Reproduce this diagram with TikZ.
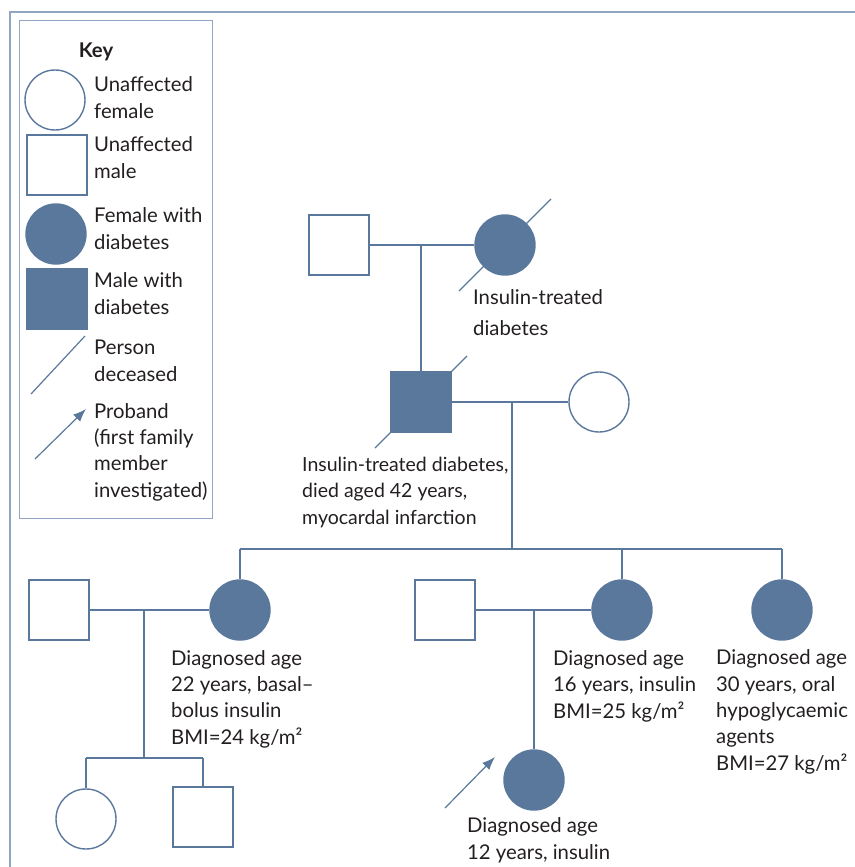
\documentclass[tikz,border=0pt]{standalone}
\usepackage{fontspec}
\setmainfont{Lato}
\usetikzlibrary{arrows.meta}

\definecolor{pedblue}{RGB}{90,120,156}
\definecolor{framecol}{RGB}{143,165,193}
\definecolor{inkcol}{RGB}{35,31,32}

\begin{document}
\begin{tikzpicture}[
  x=1pt, y=-1pt,
  male/.style={rectangle, draw=pedblue, line width=1.4pt, minimum size=60pt, inner sep=0pt},
  female/.style={circle, draw=pedblue, line width=1.4pt, minimum size=60pt, inner sep=0pt},
  affected/.style={fill=pedblue},
  link/.style={draw=pedblue, line width=1.4pt},
  deceased/.style={draw=pedblue, line width=1.2pt},
  pointer/.style={draw=pedblue, line width=1.2pt, -{Latex[length=13pt,width=10pt]}},
  % notes are placed by the baseline of their last line
  note/.style={anchor=base west, align=left, inner sep=0pt, text=inkcol,
    font=\fontsize{20.3}{26.3}\selectfont},
]
  \useasboundingbox (0,0) rectangle (854,867);

  % outer frame and key box
  \draw[framecol, line width=2pt] (10,880) -- (10,12) -- (870,12);
  \draw[framecol, line width=1pt] (19,21) rectangle (212,518);

  % key
  \node[note, anchor=base, font=\fontsize{20.3}{26.3}\selectfont\bfseries] (keyhead) at (96,57) {Key};
  \node[female] (keyfemale) at (55,100) {};
  \node[male] (keymale) at (57,165) {};
  \node[female, affected] (keyfemaled) at (56,234) {};
  \node[male, affected] (keymaled) at (57,299) {};
  \coordinate (keydeadA) at (31,394);
  \coordinate (keydeadB) at (85,336);
  \draw[deceased] (keydeadA) -- (keydeadB);
  \coordinate (keyarrowA) at (35,459);
  \coordinate (keyarrowB) at (86,409);
  \draw[pointer] (keyarrowA) -- (keyarrowB);

  \node[note] (keyt1) at (94,118) {Unaffected\\female};
  \node[note] (keyt2) at (94,178) {Unaffected\\male};
  \node[note] (keyt3) at (94,249) {Female with\\diabetes};
  \node[note] (keyt4) at (94,314) {Male with\\diabetes};
  \node[note] (keyt5) at (94,381) {Person\\deceased};
  \node[note] (keyt6) at (94,497) {Proband\\(first family\\member\\investigated)};

  % generation I
  \node[male] (grandpa) at (339,245) {};
  \node[female, affected] (grandma) at (505,245) {};
  \draw[link] (grandpa) -- (grandma);
  \draw[deceased] ([shift={(-46,46)}]grandma.center) -- ([shift={(46,-46)}]grandma.center);
  \node[note, font=\fontsize{20.3}{31}\selectfont] (grandmanote) at (473,335) {Insulin-treated\\diabetes};

  % generation II
  \node[male, affected] (father) at (421,402) {};
  \node[female] (mother) at (599,402) {};
  \coordinate (gpmid) at (421,245);
  \draw[link] (gpmid) -- (father.north);
  \draw[link] (father) -- (mother);
  \draw[deceased] ([shift={(-46,46)}]father.center) -- ([shift={(46,-46)}]father.center);
  \node[note, font=\fontsize{19.5}{26.3}\selectfont] (fathernote) at (302,524) {Insulin-treated diabetes,\\died aged 42 years,\\myocardal infarction};

  \coordinate (fmmid) at (512,402);
  \coordinate (sibmid) at (512,549);
  \coordinate (sibleft) at (240,549);
  \coordinate (sibright) at (782,549);
  \draw[link] (fmmid) -- (sibmid);
  \draw[link] (sibleft) -- (sibright);

  % generation III
  \node[male] (husbandA) at (59,610) {};
  \node[female, affected] (daughterA) at (240,610) {};
  \node[male] (husbandB) at (445,610) {};
  \node[female, affected] (daughterB) at (622,610) {};
  \node[female, affected] (daughterC) at (782,610) {};
  \draw[link] (sibleft) -- (daughterA.north);
  \draw[link] (daughterB.north |- sibleft) -- (daughterB.north);
  \draw[link] (sibright) -- (daughterC.north);
  \draw[link] (husbandA) -- (daughterA);
  \draw[link] (husbandB) -- (daughterB);

  \node[note] (daughterAnote) at (171,744) {Diagnosed age\\22 years, basal--\\bolus insulin\\BMI=24 kg/m²};
  \node[note] (daughterBnote) at (553,718) {Diagnosed age\\16 years, insulin\\BMI=25 kg/m²};
  \node[note] (daughterCnote) at (716,770) {Diagnosed age\\30 years, oral\\hypoglycaemic\\agents\\BMI=27 kg/m²};

  % generation IV
  \coordinate (amid) at (144,610);
  \coordinate (asib) at (144,758);
  \coordinate (asibleft) at (86,758);
  \coordinate (asibright) at (203,758);
  \node[female] (childA1) at (86,819) {};
  \node[male] (childA2) at (203,817) {};
  \draw[link] (amid) -- (asib);
  \draw[link] (asibleft) -- (asibright);
  \draw[link] (asibleft) -- (childA1.north);
  \draw[link] (asibright) -- (childA2.north);

  \coordinate (bmid) at (534,610);
  \node[female, affected] (proband) at (534,780) {};
  \draw[link] (bmid) -- (proband.north);
  \draw[pointer] ([shift={(-89,28)}]proband.center) -- ([shift={(-39,-23)}]proband.center);
  \node[note] (probandnote) at (467,859) {Diagnosed age\\12 years, insulin};
\end{tikzpicture}
\end{document}
